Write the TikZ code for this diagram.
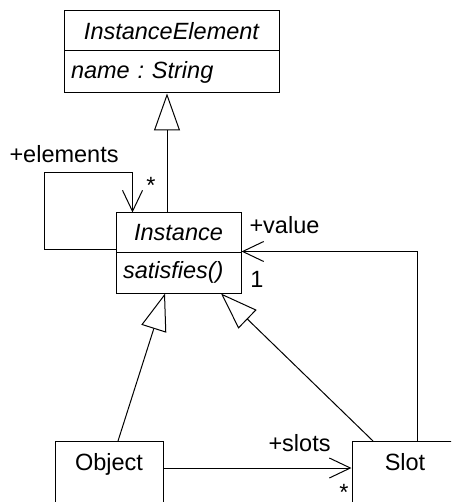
\documentclass[tikz,border=0pt]{standalone}
\usepackage{fontspec}
\setmainfont{Liberation Sans}
\usetikzlibrary{arrows.meta}
\frenchspacing
\begin{document}
\begin{tikzpicture}[x=1pt,y=-1pt,line width=1pt,
  every node/.style={font=\fontsize{23.5}{27}\selectfont},
  comp/.style={draw,rectangle,inner sep=0pt},
  gen/.style={-{Triangle[open,length=37pt,width=26pt]}},
  assoc/.style={-{Straight Barb[length=21pt,width=20pt]}},
  lbl/.style={inner sep=0pt}]
\useasboundingbox (0,0) rectangle (451,502);
\clip (0,0) rectangle (451,502);
% InstanceElement
\node[comp,minimum width=215pt,minimum height=40pt] (ieN) at (171.5,31) {\itshape InstanceElement};
\node[comp,minimum width=215pt,minimum height=42pt,text width=201pt,align=left] (ieA) at (171.5,72) {\itshape name : String};
% Instance
\node[comp,minimum width=125pt,minimum height=39pt] (instN) at (178.5,232.5) {\itshape Instance};
\node[comp,minimum width=125pt,minimum height=41pt,text width=111pt,align=left] (instA) at (178.5,272.5) {\itshape satisfies()};
% Object and Slot
\node[draw,anchor=north,minimum width=108pt,inner ysep=0pt,text height=29pt,text depth=60pt] (obj) at (109,441) {Object};
\node[draw,anchor=north,minimum width=106pt,inner ysep=0pt,text height=29pt,text depth=60pt] (slot) at (405,441) {Slot};
% generalizations
\draw[gen] ([xshift=-11.5pt]instN.north) -- ([xshift=-4.5pt]ieA.south);
\draw[gen] ([xshift=9pt]obj.north) -- ([xshift=-13.5pt]instA.south);
\draw[gen] ([xshift=-32pt]slot.north) -- ([xshift=42.5pt]instA.south);
% associations
\draw[assoc] ([yshift=3pt]instN.south west) -| (44,173) -| ([xshift=17pt]instN.north west);
\draw[assoc] ([xshift=12pt]slot.north) |- ([yshift=1pt]instN.south east);
\draw[assoc] ([yshift=-27pt]obj.north east) -- ([yshift=-27pt]slot.north west);
% labels
\node[lbl,anchor=west] (lelem) at (9,154) {+elements};
\node[lbl] (lstar1) at (151,185) {*};
\node[lbl,anchor=west] (lval) at (249,225) {+value};
\node[lbl] (lone) at (257,279) {1};
\node[lbl,anchor=west] (lslots) at (268,443) {+slots};
\node[lbl] (lstar2) at (344,492) {*};
\end{tikzpicture}
\end{document}
